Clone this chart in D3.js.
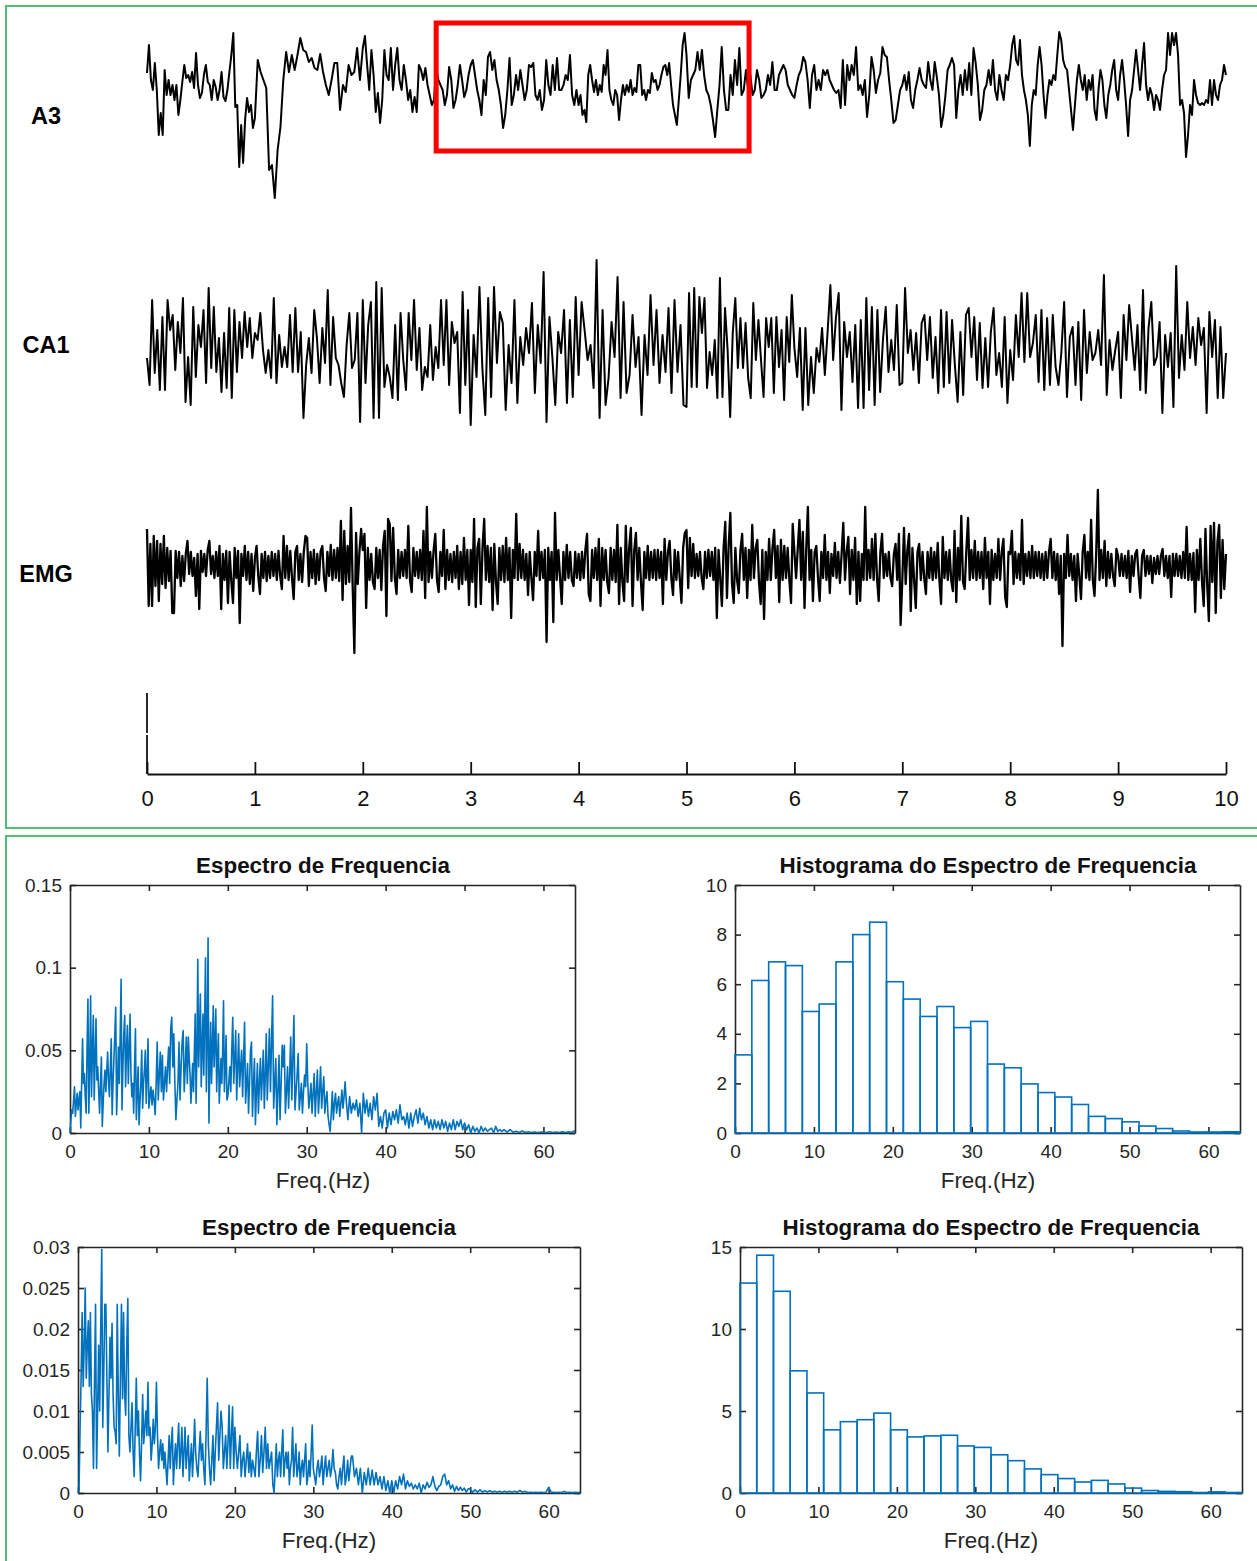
<!DOCTYPE html>
<html><head><meta charset="utf-8">
<script src="https://cdn.jsdelivr.net/npm/d3@7/dist/d3.min.js"></script>
<style>html,body{margin:0;padding:0;background:#fff}svg{display:block}text{font-family:"Liberation Sans",Arial,sans-serif}</style>
</head><body><div id="chart"></div>
<script>
// Hippocampal traces: one row per second, amplitude in arbitrary units (up = positive)
const a3=[
[12,40,5,-5,22,-5,-50,-28,-50,15,-10,5,-10,0,-15,0,-30,-15,3,20,7,10,3,13,-3,32,0,-13,-8,10,20,3,0,-15,5,-2,-15,-5,13,-12,-16,-5,13,30,52,-22,-20,-82,-40,-78,-35,-13,-27,-20,-43],
[-33,25,13,5,-3,-85,-80,-113,-65,-42,5,33,13,30,15,30,47,35,33,23,27,17,15,31,13,0,-10,5,22,22,-25,0,-7,20,10,13,37,5],
[37,49,20,-5,35,10,-27,-8,-38,-15,35,10,5,37,-5,20,37,5,-5,20,5,-15,-5,-27,-12,-27,20,15,5,17,0,-10,-20,-15,18,5,0,-5,-20,-10,18,5,-23,-15,0,20,5,-12,-5,10],
[20,25,10,-5,-15,-30,5,-10,28,33,15,25,5,-5,-20,-43,-30,-5,27,-20,-10,10,-5,15,0,-15,-5,20,18,22,-10,-15,-5,-25,-15,25,0,-10,20,-5,27,-5,-5,0,10,5,30,-10,-20,-5],
[-20,-10,-30,-25,-37,10,20,5,-7,5,-10,0,-7,20,10,35,-5,-15,-20,-5,-10,-35,-15,0,-10,0,-7,5,-10,-3,-7,20,20,-10,-5,-15,-5,-8,12,3,5,-5,0,10,18,20,10,22,0,-20,-30,-40,-15,10,40,52],
[30,-13,5,10,15,33,15,35,10,-5,-10,-20,-35,-52,-25,0,38,-5,-25,-25,10,-10,25,0,37,-10,-5,15,-5,10,-10,-5,15,5,-13,-10,-5,10,0,23,-5,-5,10,15,20,15,0,-5,-10],
[-13,0,10,15,28,23,5,-23,10,20,-5,5,-5,15,10,15,5,0,-5,-8,-5,-23,25,-20,20,5,20,10,38,-5,0,-10,5,-32,-10,28,15,-8,5,12,38,30,28,5,-15,-38,-35,-20,-5],
[0,10,-5,13,-15,-23,-5,5,17,5,0,-3,23,5,-5,23,8,-10,-42,-30,-10,15,20,27,20,-33,-5,10,-10,15,-5,22,-10,37,22,0,-35,-25,-5,0,15,0,25,-5,-15,10,-5,-15,10,5],
[20,40,49,25,20,45,10,-5,-15,-30,-61,-20,-5,-10,20,38,20,-10,-33,-10,5,0,10,5,30,53,45,25,18,15,-5,-25,-45,-20,5,20,5,-5,10,-15,5,-5,10,-25,-35,-5,15,5,-20,-33,-10,0,15,25,-5],
[-15,10,25,5,-20,-51,-15,-5,15,35,15,-5,20,42,0,-15,-3,-10,-25,-10,-15,-25,-5,10,15,52,30,52,40,52,30,-20,-15,-28,-72,-50,-20,-30,5,-10,-18,-20,-18,-20,-15,-18,5,-20,5,-10,-15,0,5,20,10]
];
const ca1=[
[-13,-40,45,-28,15,-45,28,-45,45,15,30,-25,23,-8,47,-57,-12,-60,38,-32,20,-2,35,-38,57,-23,38,-27,7,-47,12,-43,37,-53,35,-27,23,-13,33,-2,27,-13],
[12,5,32,-5,-28,-5,-33,47,-38,10,-22,-2,-22,30,-27,37,-27,13,-73,-20,7,-28,35,7,-38,17,-18,55,-40,28,-13,-20,-38,-52,0,32,-23,-15,32,-77],
[45,-38,20,43,-73,63,-73,57,-42,-20,-32,-53,20,-55,32,-15,-45,32,-15,45,-25,17,-45,-22,-32,20,-35,-2,-23,45,-20,45,-40,23,2,13,-68,53,-40,35],
[-80,10,-32,58,-23,-70,47,-52,58,-18,33,22,-65,0,-38,45,-58,8,-20,17,-8,42,-48,20,-18,73,-77,28,-12,-60,13,-8,35,-58,25,-52,48],
[-30,43,15,-15,0,-43,85,-73,35,-60,-33,23,-12,68,-53,43,-48,-30,30,-22,8,-70,10,-30,50,-20,35,-38,10,-27,37,-48,45,-27,20,-60],
[-62,52,-42,57,-42,48,12,47,-43,-7,-30,5,-53,67,-52,37,-5,-72,12,47,-23,27,-23,22,-33,-53,42,-15,25,-15,-52,27,-2,27,-48,28,-22,15,-55,28,-17,50],
[-3,-32,17,-65,17,-60,-12,-48,-3,-17,17,-30,13,60,-15,27,52,-65,23,-12,13,-37,20,-63,25,-63,47,-45,38,-60,35,-47,5,38,-27,5,-25,40,-40],
[-38,57,-8,15,-25,12,-38,22,30,-15,28,-33,8,-48,35,-42,33,-38,25,-20,-57,13,-50,30,37,-12,28,-35,22,-43,7,-42,13,37,-30,-8,-42,28,-58],
[-5,-35,30,-12,52,-17,52,-12,2,30,-37,35,-45,27,-40,30,-22,-40,-8,43,-52,8,18,-40,23,-55,35,-28,13,-15,-8,15,-20,70,-50,5,-25,-5],
[13,-53,30,-15,40,7,-25,20,-45,55,-48,17,43,-20,-12,23,-68,10,-22,12,-62,79,-33,10,-25,43,-13,18,-20,27,0,17,-68,33,-12,25,-53,18,-53,-8]
];
const emg=[
[37,-40,22,-40,30,-20,25,-35,22,-18,30,-22,18,-15,15,-47,-47,15,-12,14,-20,10,-15,12,25,-8,14,-10,8,-30,12,-43,15,-6,12,-10,16,25,-8,10,-12,14,-10,20,-43,12,-14,15,-37,14,-15,-37,18,-12,15,-57,12,-10,20,-14,14,-18,12,-25],
[8,20,-10,-28,12,-12,14,-15,10,-12,14,-10,12,-14,15,-10,-23,30,-12,20,-14,15,-12,-33,14,20,-14,12,-16,14,30,28,-20,14,-12,16,-18,12,-14,15,20,-12,-25,14,-10,21,-14,16,-12,18,-15,45,-34,35,-18,20,-16,58,-20,-87,33,-18,14,37],
[16,32,-42,18,-14,12,-16,-23,18,-12,16,-24,20,35,-50,47,42,-15,38,-12,-28,16,-12,14,-10,16,-12,40,-14,-26,18,-10,14,-12,16,-14,35,-32,59,-16,14,-12,16,32,-14,-26,14,-10,36,-23,16,-14,12,-16,14,-12,20,-23,14,-18,28,-14,16,-39],
[16,-16,47,-41,18,27,-38,18,47,-14,20,-16,18,-44,22,-16,-38,18,-14,20,-16,28,-14,18,-52,16,-12,52,-14,22,-12,16,-14,12,-29,14,-12,-34,14,-10,35,-14,14,-12,16,-76,18,-14,14,-56,53,-14,16,-12,-38,14,-14,21,-12,14,-14,-20,14,-12],
[12,-14,14,-12,16,32,-28,-35,16,-12,18,-14,27,-40,18,-14,16,-16,-27,18,-14,16,-16,41,-38,18,-16,-35,40,-16,18,38,-40,16,33,-14,18,-16,-44,14,-12,20,-14,14,-12,16,-14,16,-12,14,-38,27,-14,14,25,-12,-29,16,-14,14,-12,-37,18,33],
[36,-22,28,-10,22,-12,12,-10,14,-12,-23,14,-12,16,-10,14,-14,18,-52,16,-12,-40,18,44,-32,20,53,-18,-37,18,-14,-27,16,32,-14,18,-32,16,-14,41,-12,18,26,-16,-38,16,-53,14,-14,27,-14,18,36,-12,20,-36,26,-14,20,-12,18,-14,-37,42],
[14,-12,18,46,-14,34,-42,16,59,-14,16,-35,14,20,-12,-35,14,-12,31,-14,14,-27,12,-10,23,-12,14,-17,12,43,-14,14,29,-28,16,-14,28,-38,14,-35,12,-14,59,-14,16,-12,27,-14,32,-12,-35,14,32,-12,12,-10,14,-12,-20,12,22,-14,32,-59],
[-14,38,-18,16,32,-45,18,-14,-42,14,22,-14,14,-12,-28,14,-12,18,-14,14,-12,23,-14,-38,29,-12,14,-14,16,-14,-25,35,-36,18,-14,50,-16,-23,16,48,-14,16,-12,25,-14,14,-12,14,-23,28,-12,14,-38,16,-14,12,-12,27,-14,14,27,-31,-41,14],
[12,35,-18,14,-12,12,-14,46,-18,12,-10,14,-12,20,-12,14,-10,14,-12,12,-14,14,-12,14,27,-12,14,-14,12,-28,10,-80,12,-12,31,-10,12,-14,10,-35,12,-10,-33,14,31,-12,14,-14,46,-14,-30,12,76,-14,16,-12,25,-20,14,-12,12,-10,-20,17],
[10,-10,12,-10,10,-12,15,-26,10,-10,12,16,-10,-32,10,16,-10,10,-8,10,-17,8,-8,10,-8,10,17,-10,10,-12,10,-31,12,-10,12,-10,10,-12,14,-12,39,-14,12,-14,13,-46,16,-14,27,-16,-40,37,-18,-55,40,-16,43,-47,24,41,-32,26,-23,12]
];
const traceLabels=["A3","CA1","EMG"];
const timeTicks=[0,1,2,3,4,5,6,7,8,9,10];

// Spectra: one row per 5 Hz band, in thousandths
const spectrumA=[
[0,8,14,12,20,28,10,18,24,14,20,25,3,30,57,30,36,22,12,50,81,12,40,83,22,50,71,20,45,69,32,40,25,12,30,46,4,18,30,38,25,38,49,30],
[22,40,57,11,30,45,60,76,11,30,52,30,60,93,14,40,60,71,28,50,65,30,50,72,35,22,30,12,40,63,8,25,40,5,18,30,50,15,30,38,50,18,35,57],
[15,22,28,17,26,20,11,30,55,20,35,49,25,47,20,30,40,25,40,52,30,63,70,40,60,30,8,20,30,55,20,40,55,62,25,40,58,30],
[58,45,35,18,30,42,25,50,72,18,50,105,40,60,84,28,50,72,35,70,106,25,60,118,6,40,67,30,50,77,40,55,75,25,45,60,18,30,45,30,50,80,25,40,59,20],
[22,30,40,25,50,70,30,45,62,20,40,60,28,40,50,22,45,67,18,30,42,12,30,50,55,10,30,45,5,25,42,12,30,45,20,35,50,15,35,60],
[20,40,63,25,55,83,15,30,45,5,25,47,8,30,53,40,53,12,25,40,15,35,58,20,45,71,14,25,35,48,14,22,30,12,25,35,28],
[54,30,15,22,30,12,24,36,10,25,38,12,25,40,15,25,34,12,20,25,10,5,1,12,25,8,18,24,12,18,22,10,18,26,15,22,31],
[20,8,22,12,18,14,20,10,18,0,24,12,20,10,18,8,22,14,24,4,10,3,12],
[14,3,12,5,13,8,14,6,17,8,10,5,12,3,12,4,10,14,6,15,8,12],
[5,10,3,8,2,8,3,7,2,8,3,7,1,6,2,8,2,7,4,8,2],
[6,2,5,0,4,1,3,0,4,1,3,1,2,3,0,4,1,2,1],
[2,0.5,2,0.5,1,0.3,1.2,0.3,0.8,0.3,0.6,0.3,0.5],
[0.5,0.3,0.8,0.3,0.6,0.3,0.7,0.3,0.8,0.5,1.5]
];
const spectrumB=[
[0,0.3,8,14,22,13,18,25,14,18,21,13,22,12,10,3,14,23,3,10,18,10,20,29.7,8,15,23,23,14,5,12,19,14,20.7,12,8,7.5,6],
[23,12,4.5,14,23,11.5,22,12,9.5,18,23.7,7,5,8,11,5,2,8,14,7,10,5,1.5,6,12,6,8,10,7,13.5,7,8,4,6,9,6,8],
[13.5,7,3,5,6.5,4,6,3,5,3,1,4,7,3,6,8,1,4,6,3,6,8.5,3,5,8,2,5,8,3,5,7,1.5,4,6,2,5,9],
[5,3,2,5,7.5,4,6,3,1,7,14,6,3,1,4,7,1.5,5,8,11,4,7,10,8,3,5,7,3,6,10.7,3,7,10.5,3],
[8,5,3,5,7,2,4,5,2,4,6,2.5,5,2,4,3,2,5,7.5,2,4,7,2.5,5,8,3,6,3,4,5,1],
[0,3,6,2,4,5,2,5,7.7,2,4,5,3,5,1,3,4,8,2,4,6,2,3,5,1,3,4,2,4,6,1,2,4,2,5,8.3],
[3,2,1,3,4,2,3,4.5,1,3,4.5,2,3,4,2,3,5.3,3,2.5,1,0.5,2,3,1,3,4.5,1,2,4,1.5,3,4.5],
[4.5,2,3,1,3,0,2.5,1,3,1,2.8,1,2.5,1,2,0.5,2,0.3,1.5,0],
[1.5,0,1.5,0.5,2,1,2.3,0.5,1.5,0.8,1.2,0.5,1,0.5,1.2,0,1,0.5,1.3,0.7],
[1,2,0.8,0.3,0.8,1,2,2.3,1,1.5,0.5,1,0.2,0.8,0.3,0.7,0.3,0.6,0.1,0.5],
[0.5,0.1,0.4,0.1,0.4,0.1,0.3,0.1,0.3,0.1,0.2,0.1,0.2,0.1,0.2,0.1],
[0.2,0.1,0.2,0.1,0.3,0.1,0.2,0.05,0.1,0.05,0.1,0.05,0.1,0.05,0.1],
[0.7,0.1,0.1,0.05,0.1,0.05,0.2,0.05,0.1,0.05,0.1,0.05,0.1]
];
const histA=[3.15,6.15,6.9,6.75,4.9,5.2,6.9,8.0,8.5,6.1,5.4,4.7,5.1,4.25,4.5,2.78,2.63,1.98,1.63,1.45,1.15,0.67,0.58,0.45,0.28,0.18,0.08,0.04,0.04,0.05];
const histB=[12.8,14.5,12.3,7.45,6.1,3.85,4.35,4.47,4.87,3.85,3.42,3.48,3.52,2.87,2.78,2.33,1.97,1.47,1.12,0.88,0.67,0.77,0.55,0.3,0.15,0.1,0.08,0.03,0.07,0.03];
const freqTicks=[0,10,20,30,40,50,60];
const ticksSpecA=[0,0.05,0.1,0.15];
const ticksSpecB=[0,0.005,0.01,0.015,0.02,0.025,0.03];
const ticksHistA=[0,2,4,6,8,10];
const ticksHistB=[0,5,10,15];
const specTitle="Espectro de Frequencia", histTitle="Histograma do Espectro de Frequencia", freqLabel="Freq.(Hz)";
const binWidth=64/30, freqMax=64;

const W=1257,H=1561,GREEN="#52bd72",BLUE="#0072BD",INK="#262626";
const svg=d3.select("#chart").append("svg").attr("width",W).attr("height",H).attr("viewBox",[0,0,W,H]);

// frames
svg.append("rect").attr("x",6).attr("y",6).attr("width",W).attr("height",822).attr("fill","none").attr("stroke",GREEN).attr("stroke-width",2);
svg.append("rect").attr("x",6).attr("y",836).attr("width",W).attr("height",H).attr("fill","none").attr("stroke",GREEN).attr("stroke-width",2);

// top panel
const tx=d3.scaleLinear().domain([0,10]).range([147,1226]);
const line=d3.line();
const tracePts=rows=>rows.flatMap((row,s)=>row.map((v,i)=>[s+i/(s===rows.length-1?row.length-1:row.length),v]));
function drawTrace(rows,base,label,labelY,sw){
  const y=d3.scaleLinear().domain([-100,100]).range([base+100,base-100]);
  svg.append("path").attr("fill","none").attr("stroke","#000").attr("stroke-width",sw).attr("stroke-linejoin","round")
    .attr("d",line(tracePts(rows).map(([t,v])=>[tx(t),y(v)])));
  svg.append("text").attr("x",46).attr("y",labelY).attr("text-anchor","middle").attr("font-size",23.5).attr("font-weight","bold").attr("fill","#000").text(label);
}
drawTrace(a3,85,traceLabels[0],124,2);
drawTrace(ca1,345,traceLabels[1],353,2);
drawTrace(emg,566,traceLabels[2],582,2.3);

const tAxis=svg.append("g").attr("transform","translate(0,774)")
  .call(d3.axisBottom(tx).tickValues(timeTicks).tickSizeInner(-12).tickSizeOuter(0).tickPadding(16).tickFormat(d3.format("d")));
tAxis.selectAll("path,line").attr("stroke","#111").attr("stroke-width",1.8);
tAxis.selectAll("text").attr("font-size",22).attr("fill","#111").attr("font-family",'"Liberation Sans",Arial,sans-serif');
// scale bar on the time origin
[[693,733],[735,774]].forEach(([a,b])=>svg.append("line").attr("x1",tx(0)).attr("x2",tx(0)).attr("y1",a).attr("y2",b).attr("stroke","#111").attr("stroke-width",1.8));

// red selection box spans 2.68–5.58 s of A3
const sel=[2.68,5.58];
svg.append("rect").attr("x",tx(sel[0])).attr("y",23).attr("width",tx(sel[1])-tx(sel[0])).attr("height",128)
  .attr("fill","none").attr("stroke","#f00").attr("stroke-width",5);

function panel(box,yMax,yTicks,title,titleX,yFmt){
  const x=d3.scaleLinear().domain([0,freqMax]).range([box.l,box.r]);
  const y=d3.scaleLinear().domain([0,yMax]).range([box.b,box.t]);
  const g=svg.append("g");
  const inner=6;
  const style=s=>{s.selectAll("path,line").attr("stroke",INK).attr("stroke-width",1.6);
    s.selectAll("text").attr("font-size",19).attr("fill",INK).attr("font-family",'"Liberation Sans",Arial,sans-serif');};
  g.append("g").attr("transform",`translate(0,${box.b})`).call(d3.axisBottom(x).tickValues(freqTicks).tickSizeInner(-inner).tickSizeOuter(0).tickPadding(12).tickFormat(d3.format("d"))).call(style);
  g.append("g").attr("transform",`translate(0,${box.t})`).call(d3.axisTop(x).tickValues(freqTicks).tickSizeInner(-inner).tickSizeOuter(0).tickFormat("")).call(style);
  g.append("g").attr("transform",`translate(${box.l},0)`).call(d3.axisLeft(y).tickValues(yTicks).tickSizeInner(-inner).tickSizeOuter(0).tickPadding(8).tickFormat(yFmt)).call(style);
  g.append("g").attr("transform",`translate(${box.r},0)`).call(d3.axisRight(y).tickValues(yTicks).tickSizeInner(-inner).tickSizeOuter(0).tickFormat("")).call(style);
  svg.append("text").attr("x",titleX).attr("y",box.t-12).attr("text-anchor","middle").attr("font-size",22.4).attr("font-weight","bold").attr("fill","#111").text(title);
  svg.append("text").attr("x",titleX).attr("y",box.b+55).attr("text-anchor","middle").attr("font-size",22.4).attr("fill",INK).text(freqLabel);
  return {x,y};
}
function spectrum(rows,box,yMax,yTicks,titleX){
  const {x,y}=panel(box,yMax,yTicks,specTitle,titleX,d=>String(d));
  const pts=rows.flatMap((row,r)=>{const s=5*r,w=Math.min(5,freqMax-s);
    return row.map((v,i)=>[s+w*i/(s+w>=freqMax?row.length-1:row.length),v/1000]);});
  svg.append("path").attr("fill","none").attr("stroke",BLUE).attr("stroke-width",1.6).attr("stroke-linejoin","round")
    .attr("d",line(pts.map(([f,v])=>[x(f),y(v)])));
}
function histogram(vals,box,yMax,yTicks,titleX){
  const {x,y}=panel(box,yMax,yTicks,histTitle,titleX,d=>String(d));
  svg.append("g").selectAll("rect").data(vals).join("rect")
    .attr("x",(d,i)=>x(i*binWidth)).attr("width",(d,i)=>x((i+1)*binWidth)-x(i*binWidth))
    .attr("y",d=>y(d)).attr("height",d=>y(0)-y(d))
    .attr("fill","none").attr("stroke",BLUE).attr("stroke-width",1.6);
}
spectrum(spectrumA,{l:70,r:575,t:885,b:1133},0.15,ticksSpecA,323);
histogram(histA,{l:735,r:1240,t:885,b:1133},10,ticksHistA,988);
spectrum(spectrumB,{l:78,r:580,t:1247,b:1493},0.03,ticksSpecB,329);
histogram(histB,{l:740,r:1242,t:1247,b:1493},15,ticksHistB,991);
</script></body></html>
